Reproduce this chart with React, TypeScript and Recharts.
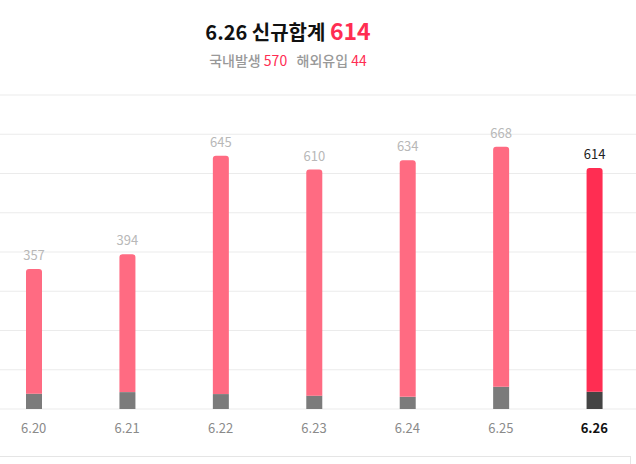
import React from "react";
import { BarChart, Bar, XAxis, YAxis, CartesianGrid, LabelList, Cell } from "recharts";

const dates = ["6.20", "6.21", "6.22", "6.23", "6.24", "6.25", "6.26"];
const domestic = [318, 351, 607, 576, 603, 611, 570];
const overseas = [39, 43, 38, 34, 31, 57, 44];
const totals = [357, 394, 645, 610, 634, 668, 614];
const yTicks = [0, 100, 200, 300, 400, 500, 600, 700, 800];

const data = dates.map((d, i) => ({
  date: d,
  domestic: domestic[i],
  overseas: overseas[i],
  total: totals[i],
}));

const FONT = "'Noto Sans CJK KR', 'Noto Sans', sans-serif";
const last = dates.length - 1;

const Tick = (props: any) => {
  const { x, y, payload, index } = props;
  const isLast = index === last;
  return (
    <text
      x={x}
      y={y + 16}
      textAnchor="middle"
      fontFamily={FONT}
      fontSize={13}
      fontWeight={isLast ? 700 : 400}
      fill={isLast ? "#111" : "#8a8a8a"}
    >
      {payload.value}
    </text>
  );
};

const TopLabel = (props: any) => {
  const { x, y, width, value, index } = props;
  const isLast = index === last;
  return (
    <text
      x={x + width / 2}
      y={y - 9}
      textAnchor="middle"
      fontFamily={FONT}
      fontSize={13}
      fill={isLast ? "#222" : "#b8b8b8"}
    >
      {value}
    </text>
  );
};

export default function App() {
  return (
    <div
      style={{
        position: "absolute",
        left: 0,
        top: 0,
        width: 636,
        height: 464,
        overflow: "hidden",
        background: "#fff",
        fontFamily: FONT,
      }}
    >
      <div style={{ position: "absolute", left: 0, top: 0 }}>
        <div style={{ position: "absolute", left: -13, top: 0 }}>
          <BarChart
            width={654}
            height={464}
            data={data}
            margin={{ top: 95, right: 0, bottom: 25, left: 0 }}
            barSize={16}
          >
            <CartesianGrid vertical={false} stroke="#ebebeb" strokeWidth={1} />
            <YAxis hide domain={[0, 800]} ticks={yTicks} />
            <XAxis
              dataKey="date"
              axisLine={false}
              tickLine={false}
              height={30}
              interval={0}
              tick={<Tick />}
            />
            <Bar dataKey="overseas" stackId="a" isAnimationActive={false}>
              {data.map((_, i) => (
                <Cell key={i} fill={i === last ? "#444444" : "#7b7b7b"} />
              ))}
            </Bar>
            <Bar dataKey="domestic" stackId="a" radius={[3, 3, 0, 0]} isAnimationActive={false}>
              {data.map((_, i) => (
                <Cell key={i} fill={i === last ? "#ff2d52" : "#ff6b82"} />
              ))}
              <LabelList dataKey="total" content={<TopLabel />} />
            </Bar>
          </BarChart>
        </div>
      </div>
      <div
        style={{
          position: "absolute",
          left: 0,
          top: 16,
          width: 576,
          textAlign: "center",
          whiteSpace: "nowrap",
          lineHeight: "28px",
        }}
      >
        <span style={{ fontSize: 20, fontWeight: 700, color: "#111" }}>6.26 신규합계 </span>
        <span style={{ fontSize: 23, fontWeight: 700, color: "#ff2d52" }}>614</span>
      </div>
      <div
        style={{
          position: "absolute",
          left: 0,
          top: 50,
          width: 576,
          textAlign: "center",
          whiteSpace: "nowrap",
          fontSize: 14,
          lineHeight: "20px",
        }}
      >
        <span style={{ color: "#999", fontWeight: 500 }}>국내발생 </span>
        <span style={{ color: "#ff2d52" }}>570</span>
        <span style={{ color: "#999", fontWeight: 500 }}>&nbsp;&nbsp;&nbsp;해외유입 </span>
        <span style={{ color: "#ff2d52" }}>44</span>
      </div>
      <div
        style={{
          position: "absolute",
          left: 0,
          top: 456,
          width: 630,
          height: 20,
          borderTop: "1px solid #e5e5e5",
          borderRight: "1px solid #e5e5e5",
        }}
      />
    </div>
  );
}
